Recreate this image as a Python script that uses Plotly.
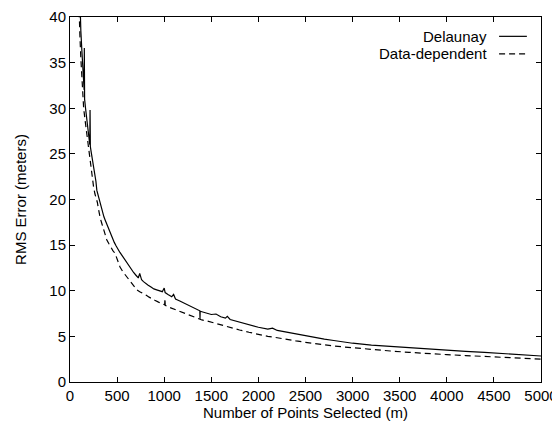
import plotly.graph_objects as go

# Delaunay series
del_x = [95, 105, 115, 125, 135, 145, 150, 152, 155, 165, 175, 185, 195, 205, 210, 213, 216,
         225, 235, 245, 255, 265, 275, 285, 300, 315, 330, 345, 360, 375, 390, 405, 420, 435,
         450, 470, 490, 510, 530, 550, 575, 600, 625, 650, 675, 700, 725, 740, 760, 780, 800,
         830, 860, 890, 920, 950, 980, 1000, 1010, 1040, 1080, 1100, 1120, 1160, 1200, 1240, 1280,
         1320, 1360, 1378, 1380, 1382, 1400, 1450, 1500, 1550, 1600, 1650, 1670, 1700, 1750, 1800,
         1850, 1900, 2000, 2100, 2150, 2200, 2300, 2400, 2500, 2600, 2700, 2800, 2900, 3000, 3200,
         3400, 3600, 3800, 4000, 4200, 4400, 4600, 4800, 5000]
del_y = [46, 40.5, 38.5, 36.5, 35, 33.5, 32, 36.6, 31, 30, 29, 28.2, 27.3, 26.8, 26.0, 29.8, 25.8,
         25.2, 24.6, 24.0, 23.4, 22.8, 22.0, 21.0, 20.4, 19.8, 19.1, 18.6, 18.1, 17.7, 17.3, 17.0,
         16.7, 16.3, 15.8, 15.3, 14.9, 14.5, 14.2, 13.9, 13.5, 13.1, 12.7, 12.3, 12.0, 11.7, 11.4,
         11.9, 11.2, 11.0, 10.8, 10.6, 10.4, 10.2, 10.1, 10.0, 9.9, 10.3, 9.8, 9.6, 9.35, 9.6, 9.1,
         8.9, 8.7, 8.5, 8.3, 8.1, 7.95, 7.8, 6.9, 7.75, 7.7, 7.55, 7.4, 7.45, 7.15, 7.0, 7.2, 6.85,
         6.7, 6.55, 6.4, 6.25, 6.0, 5.8, 5.9, 5.65, 5.45, 5.25, 5.05, 4.9, 4.7, 4.55, 4.4, 4.25,
         4.05, 3.9, 3.75, 3.6, 3.5, 3.35, 3.25, 3.1, 3.0, 2.85]

# Data-dependent series
dd_x = [85, 95, 105, 115, 125, 135, 145, 160, 175, 190, 205, 220, 235, 250, 265, 280, 290, 300,
        310, 320, 337, 355, 370, 390, 410, 430, 455, 478, 500, 515, 531, 560, 590, 620, 650, 680,
        709, 740, 780, 810, 840, 870, 900, 940, 980, 1005, 1008, 1011, 1050, 1100, 1150,
        1200, 1250, 1300, 1350, 1400, 1450, 1500, 1600, 1700, 1800, 1900, 2000, 2100, 2200,
        2300, 2400, 2500, 2600, 2700, 2800, 2900, 3000, 3200, 3400, 3600, 3800, 4000, 4200,
        4400, 4600, 4800, 5000]
dd_y = [45, 40.5, 38, 35.5, 33.5, 31.5, 30, 28.7, 27.5, 25.8, 24.6, 23.4, 22.3, 21.4, 20.6, 20.1,
        19.7, 19.1, 18.5, 18.0, 17.4, 16.7, 16.1, 15.6, 15.2, 14.8, 14.4, 14.1, 13.5, 13.1, 12.6,
        12.1, 11.7, 11.2, 10.8, 10.4, 10.1, 9.9, 9.7, 9.5, 9.3, 9.1, 8.95, 8.75, 8.55, 8.45,
        9.15, 8.4, 8.2, 8.0, 7.8, 7.6, 7.4, 7.2, 7.0, 6.8, 6.7, 6.55, 6.3, 6.0, 5.7, 5.45, 5.2,
        5.0, 4.85, 4.65, 4.5, 4.35, 4.2, 4.05, 3.95, 3.85, 3.75, 3.55, 3.4, 3.25, 3.1, 3.0, 2.9,
        2.8, 2.7, 2.6, 2.5]

x_ticks = [0, 500, 1000, 1500, 2000, 2500, 3000, 3500, 4000, 4500, 5000]
y_ticks = [0, 5, 10, 15, 20, 25, 30, 35, 40]
series_names = ["Delaunay", "Data-dependent"]

FONT = "Liberation Sans, Arial, Helvetica, sans-serif"

fig = go.Figure()
fig.add_trace(go.Scatter(x=del_x, y=del_y, mode="lines", name=series_names[0],
                         line=dict(color="black", width=1.2), showlegend=False))
fig.add_trace(go.Scatter(x=dd_x, y=dd_y, mode="lines", name=series_names[1],
                         line=dict(color="black", width=1.2, dash="6px,4px"), showlegend=False))

axis_common = dict(showgrid=False, zeroline=False, showline=True, linecolor="black",
                   linewidth=1, mirror="ticks", ticks="inside", ticklen=5, tickcolor="black",
                   automargin=False,
                   tickfont=dict(family=FONT, size=15, color="black"))

fig.update_xaxes(range=[0, 5000], tickvals=x_ticks, ticktext=[str(v) for v in x_ticks],
                 title=dict(text="Number of Points Selected (m)",
                            font=dict(family=FONT, size=15, color="black"), standoff=0),
                 **axis_common)
fig.update_yaxes(range=[0, 40], tickvals=y_ticks, ticktext=[str(v) for v in y_ticks],
                 title=dict(text="RMS Error (meters)",
                            font=dict(family=FONT, size=15, color="black"), standoff=19),
                 **axis_common)

# gnuplot-style legend: text right aligned, sample line on the right
leg_rows = [0.947, 0.899]
leg_dash = ["solid", "6px,4px"]
for name, yy, dsh in zip(series_names, leg_rows, leg_dash):
    fig.add_annotation(x=0.887, y=yy, xref="paper", yref="paper", text=name,
                       showarrow=False, xanchor="right", yanchor="middle", height=17,
                       borderpad=0, font=dict(family=FONT, size=15, color="black"))
    fig.add_shape(type="line", xref="paper", yref="paper", x0=0.911, x1=0.970, y0=yy, y1=yy,
                  line=dict(color="black", width=1.2, dash=dsh))

fig.update_layout(width=552, height=413, plot_bgcolor="white", paper_bgcolor="white",
                  margin=dict(l=62, r=19, t=9, b=39), showlegend=False,
                  font=dict(family=FONT, size=15, color="black"))

fig.write_html("out.html")
